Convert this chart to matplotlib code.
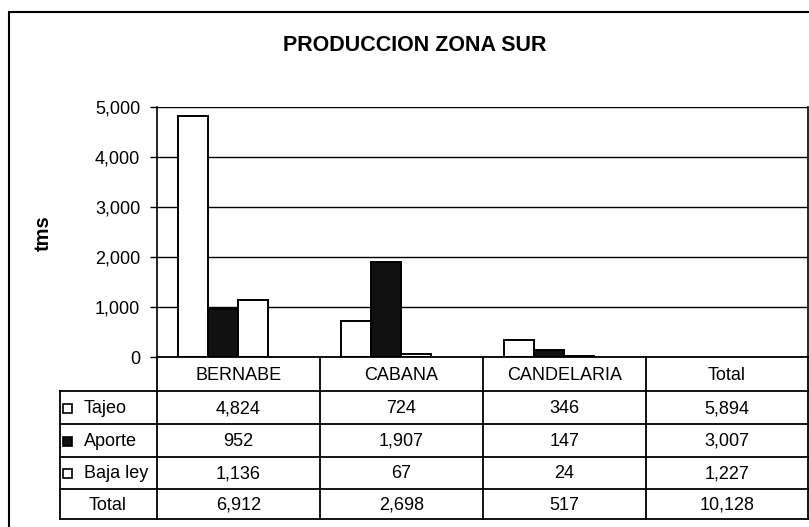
import matplotlib.pyplot as plt
from matplotlib.patches import Rectangle
import numpy as np

plt.rcParams['font.family'] = ['Liberation Sans', 'DejaVu Sans']

categories = ['BERNABE', 'CABANA', 'CANDELARIA', 'Total']
series = ['Tajeo', 'Aporte', 'Baja ley', 'Total']
tajeo = [4824, 724, 346, 5894]
aporte = [952, 1907, 147, 3007]
baja_ley = [1136, 67, 24, 1227]
total = [6912, 2698, 517, 10128]
y_ticks = [0, 1000, 2000, 3000, 4000, 5000]

W, H = 809, 527


def fx(px):
    return px / W


def fy(py):
    return 1 - py / H


def main():
    fig = plt.figure(figsize=(W / 100, H / 100), dpi=100)

    # outer frame
    fig.add_artist(Rectangle((fx(9), fy(540)), fx(820) - fx(9), fy(12) - fy(540),
                             transform=fig.transFigure, fill=False, edgecolor='black', linewidth=1.5))

    fig.text(fx(415), fy(45), 'PRODUCCION ZONA SUR', ha='center', va='center',
             fontsize=15.5, fontweight='bold')

    ax = fig.add_axes([fx(157), fy(357), fx(808) - fx(157), fy(107) - fy(357)])
    width = 0.184
    offsets = [-1.5 * width, -0.5 * width, 0.5 * width]
    colors = ['white', '#111111', 'white']
    x = np.arange(3)
    for vals, off, col in zip([tajeo, aporte, baja_ley], offsets, colors):
        ax.bar(x + off, vals[:3], width, color=col, edgecolor='black', linewidth=1.4, zorder=3)

    ax.set_xlim(-0.5, len(categories) - 0.5)
    ax.set_ylim(0, 5000)
    ax.set_yticks(y_ticks)
    ax.set_yticklabels([f'{v:,}' for v in y_ticks], fontsize=13)
    ax.set_xticks([])
    ax.tick_params(axis='y', direction='out', length=5, width=1, pad=7)
    ax.yaxis.grid(True, color='black', linewidth=1)
    for s in ['top', 'bottom']:
        ax.spines[s].set_visible(False)
    ax.spines['left'].set_linewidth(1.2)
    ax.spines['right'].set_linewidth(1.2)
    fig.text(fx(43), fy(233), 'tms', rotation=90, ha='center', va='center',
             fontsize=14.5, fontweight='bold')

    # data table under the plot
    tab = fig.add_axes([0, 0, 1, 1])
    tab.set_xlim(0, W)
    tab.set_ylim(H, 0)
    tab.axis('off')
    col_x = [157, 320, 483, 646, 808]
    row_y = [357, 391, 424, 457, 489, 519]
    lw = 1.3
    tab.plot([157, 808], [row_y[0], row_y[0]], color='black', lw=lw)
    for yy in row_y[1:]:
        tab.plot([60, 808], [yy, yy], color='black', lw=lw)
    for xx in col_x:
        tab.plot([xx, xx], [row_y[0], row_y[-1]], color='black', lw=lw)
    tab.plot([60, 60], [row_y[1], row_y[-1]], color='black', lw=lw)

    fs = 13
    for i, cat in enumerate(categories):
        cx = (col_x[i] + col_x[i + 1]) / 2
        tab.text(cx, (row_y[0] + row_y[1]) / 2 + 1, cat, ha='center', va='center', fontsize=fs)

    rows = [tajeo, aporte, baja_ley, total]
    for r, (name, vals) in enumerate(zip(series, rows)):
        cy = (row_y[r + 1] + row_y[r + 2]) / 2 + 1
        for i, v in enumerate(vals):
            cx = (col_x[i] + col_x[i + 1]) / 2
            tab.text(cx, cy, f'{v:,}', ha='center', va='center', fontsize=fs)
        if r < 3:
            tab.add_patch(Rectangle((63, cy - 5), 9, 9, facecolor=colors[r],
                                    edgecolor='black', linewidth=1.2))
            tab.text(84, cy, name, ha='left', va='center', fontsize=fs)
        else:
            tab.text(108, cy, name, ha='center', va='center', fontsize=fs)

    fig.savefig('out.png', dpi=100)


if __name__ == '__main__':
    main()
